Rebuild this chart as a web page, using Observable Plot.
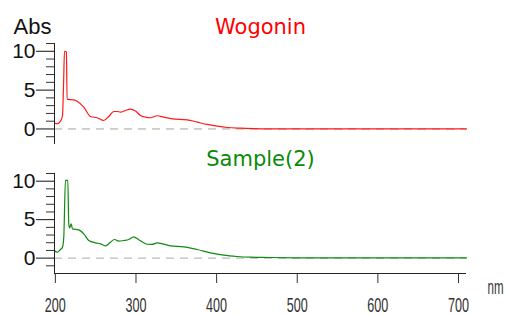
<!DOCTYPE html>
<html><head><meta charset="utf-8">
<script src="https://cdn.jsdelivr.net/npm/d3@7"></script>
<script src="https://cdn.jsdelivr.net/npm/@observablehq/plot@0.6"></script>
<style>
body{margin:0;background:#fff}
#c{position:relative;width:506px;height:315px;overflow:hidden;background:#fff}
#c svg{position:absolute;left:0;overflow:visible;background:transparent}
</style></head><body><div id="c"></div>
<script>
const wogNm  = [189,192.3,196.4,198.9,200.3,201.4,203.8,204.6,205.5,212.9,217.1,225.3,233.6,241.9,250.1,256.3,262.5,266.7,270.8,277,283.2,289.4,295.6,301.8,308,316.3,324.5,334.9,353.5,366,378.3,390.7,403.2,419.7,435.8,454.4,500,600,700];
const wogAbs = [0.75,0.67,1.0,1.7,6.0,10.0,9.9,3.8,3.8,3.75,3.58,2.8,1.6,1.44,1.09,1.6,2.25,2.25,2.17,2.38,2.55,2.3,1.74,1.52,1.44,1.7,1.52,1.31,1.18,0.88,0.58,0.36,0.19,0.1,0.05,0.02,0.01,0.01,0.01];
const smpNm  = [189,192.3,196.4,198.9,200.5,202.6,205.5,206.7,207.9,209.7,211.3,219.1,225.3,231.5,239.8,246,252.2,258.4,263.4,268.7,274.9,281.1,287.3,293.5,299.7,304,310,316.3,332.8,349.3,365.9,382.4,398.9,415.5,432,454.4,500,600,700];
const smpAbs = [0.99,0.77,1.12,1.42,2.7,10.1,10.1,4.46,3.94,4.46,3.8,3.68,3.16,2.29,1.99,1.86,1.6,2.07,2.42,2.2,2.29,2.42,2.77,2.38,1.99,1.8,1.78,1.99,1.6,1.47,1.12,0.69,0.38,0.21,0.12,0.08,0.03,0.02,0.02];
const xTicks = [200,300,400,500,600,700];
const yMajor = [0,5,10];
const yMinor = [-1,1,2,3,4,6,7,8,9,11];
const xDomain = [189,700];
const yDomain = [-2,11];
const titles = ["Wogonin","Sample(2)"];

function panel(o) {
  const data = o.nm.map((x,i)=>({x, y:o.abs[i]}));
  const marks = [
    Plot.ruleY([0], {stroke:o.zeroColor, strokeDasharray:"8,6", strokeWidth:1}),
    Plot.line(data, {x:"x", y:"y", stroke:o.color, strokeWidth:1.2, curve:"monotone-x"}),
    Plot.axisY(yMajor, {tickSize:18, tickPadding:1, fontSize:21, color:"#111", label:null}),
    Plot.axisY(yMinor, {tickSize:8, text:null, color:"#333", label:null}),
    Plot.ruleX([xDomain[0]], {stroke:"#222"}),
    Plot.text([o.title], {text:d=>d, frameAnchor:"top", dy:o.titleDy, lineAnchor:"bottom", fill:o.titleColor, fontSize:21, fontFamily:"DejaVu Sans"})
  ];
  if (o.abs0) marks.push(Plot.text(["Abs"], {text:d=>d, frameAnchor:"top-left", textAnchor:"start", dx:-41, dy:-10, lineAnchor:"bottom", fontSize:22, fill:"#111"}));
  if (o.bottom) {
    marks.push(Plot.ruleY([yDomain[0]], {stroke:"#222"}));
    marks.push(Plot.axisX(xTicks, {tickSize:10, tickPadding:14, fontSize:21, dx:-8, color:"#333", label:null}));
    marks.push(Plot.text(["nm"], {text:d=>d, frameAnchor:"bottom-right", textAnchor:"start", dx:21, dy:14, lineAnchor:"middle", fontSize:21, fill:"#333"}));
  }
  const svg = Plot.plot({
    width:506, height:o.height, marginLeft:54, marginRight:40, marginTop:o.marginTop, marginBottom:o.marginBottom,
    style:{fontFamily:"Liberation Sans, Arial, sans-serif", background:"transparent"},
    x:{domain:xDomain, axis: o.bottom ? undefined : null, label:null},
    y:{domain:yDomain, label:null},
    marks
  });
  svg.style.top = o.top + "px";
  svg.querySelectorAll('[aria-label="x-axis tick label"] text').forEach(t=>{
    t.setAttribute("textLength","21"); t.setAttribute("lengthAdjust","spacingAndGlyphs");
  });
  svg.querySelectorAll('text').forEach(t=>{
    if (t.textContent === "nm") {
      const tr = t.getAttribute("transform") || "";
      t.setAttribute("transform", tr + " scale(0.55,1)");
    }
  });
  return svg;
}
const c = document.getElementById("c");
c.appendChild(panel({nm:wogNm, abs:wogAbs, color:"#ff1a1a", title:titles[0], titleColor:"#ff0000", zeroColor:"#aaa594", height:150, marginTop:43, marginBottom:6, top:0, titleDy:-10, abs0:true}));
c.appendChild(panel({nm:smpNm, abs:smpAbs, color:"#108a10", title:titles[1], titleColor:"#0a8a0a", zeroColor:"#a8a8a8", height:165, marginTop:23, marginBottom:42, top:150, titleDy:-8, bottom:true}));
</script></body></html>
